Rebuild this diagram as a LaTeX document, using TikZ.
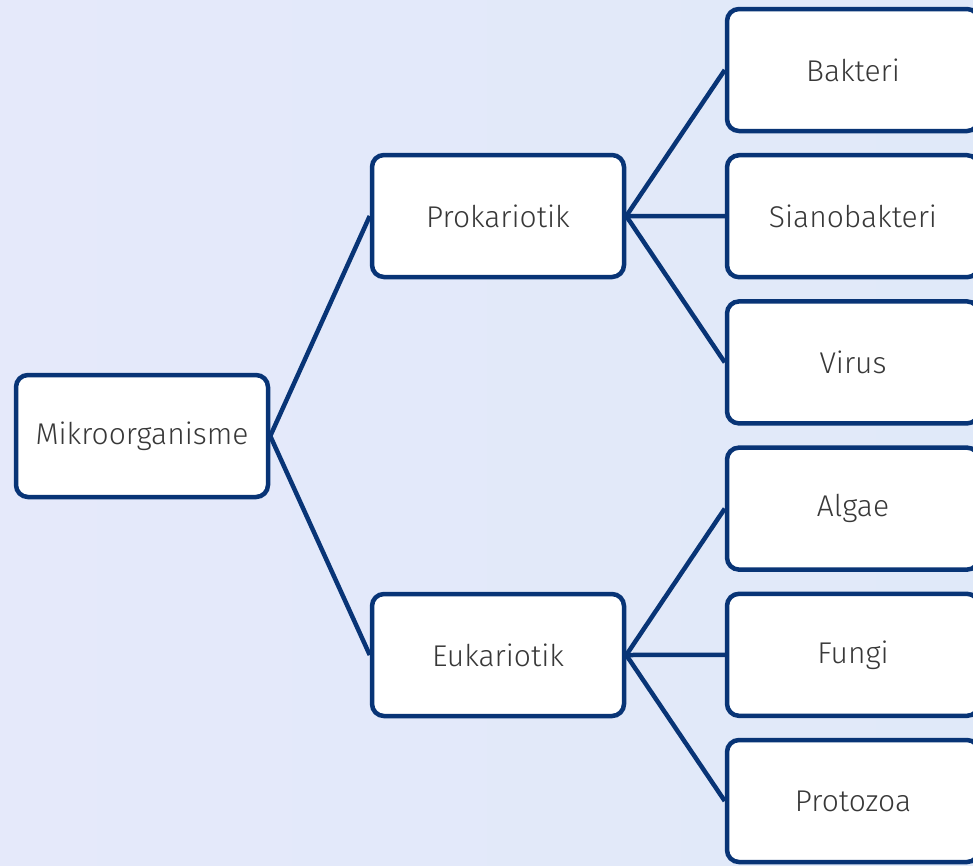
\documentclass[tikz,border=0pt]{standalone}
\usepackage{fontspec}
\setmainfont{Fira Sans Light}
\usepackage{tikz}

\definecolor{navy}{RGB}{8,52,118}
\definecolor{textgray}{RGB}{56,56,56}
\definecolor{bgtop}{RGB}{229,233,250}
\definecolor{bgbottom}{RGB}{224,233,249}

\begin{document}
\begin{tikzpicture}[x=1pt, y=-1pt,
		box/.style={draw=navy, fill=white, line width=4.5pt, rounded corners=12pt,
			minimum width=252pt, minimum height=122pt, text=textgray,
			font=\fontsize{30}{36}\selectfont},
		link/.style={draw=navy, line width=4.5pt}]
			% Background
			\clip (0,0) rectangle (973,865);
			\shade[shading angle=135, left color=bgtop, right color=bgbottom] (0,0) rectangle (973,865);
			% Nodes
			\node[box] (mikro) at (142,436) {Mikroorganisme};
			\node[box] (prok) at (498,216) {Prokariotik};
			\node[box] (euk) at (498,655) {Eukariotik};
			\foreach \name/\label [count=\i from 0] in {bakteri/Bakteri, siano/Sianobakteri, virus/Virus, algae/Algae, fungi/Fungi, protozoa/Protozoa} {
				\node[box] (\name) at (853, {70 + 146.2*\i}) {\label};
			}
			% Links
			\draw[link] (mikro.east) -- (prok.west);
			\draw[link] (mikro.east) -- (euk.west);
			\draw[link] (prok.east) -- (bakteri.west);
			\draw[link] (prok.east) -- (siano.west);
			\draw[link] (prok.east) -- (virus.west);
			\draw[link] (euk.east) -- (algae.west);
			\draw[link] (euk.east) -- (fungi.west);
			\draw[link] (euk.east) -- (protozoa.west);
		\end{tikzpicture}
\end{document}
